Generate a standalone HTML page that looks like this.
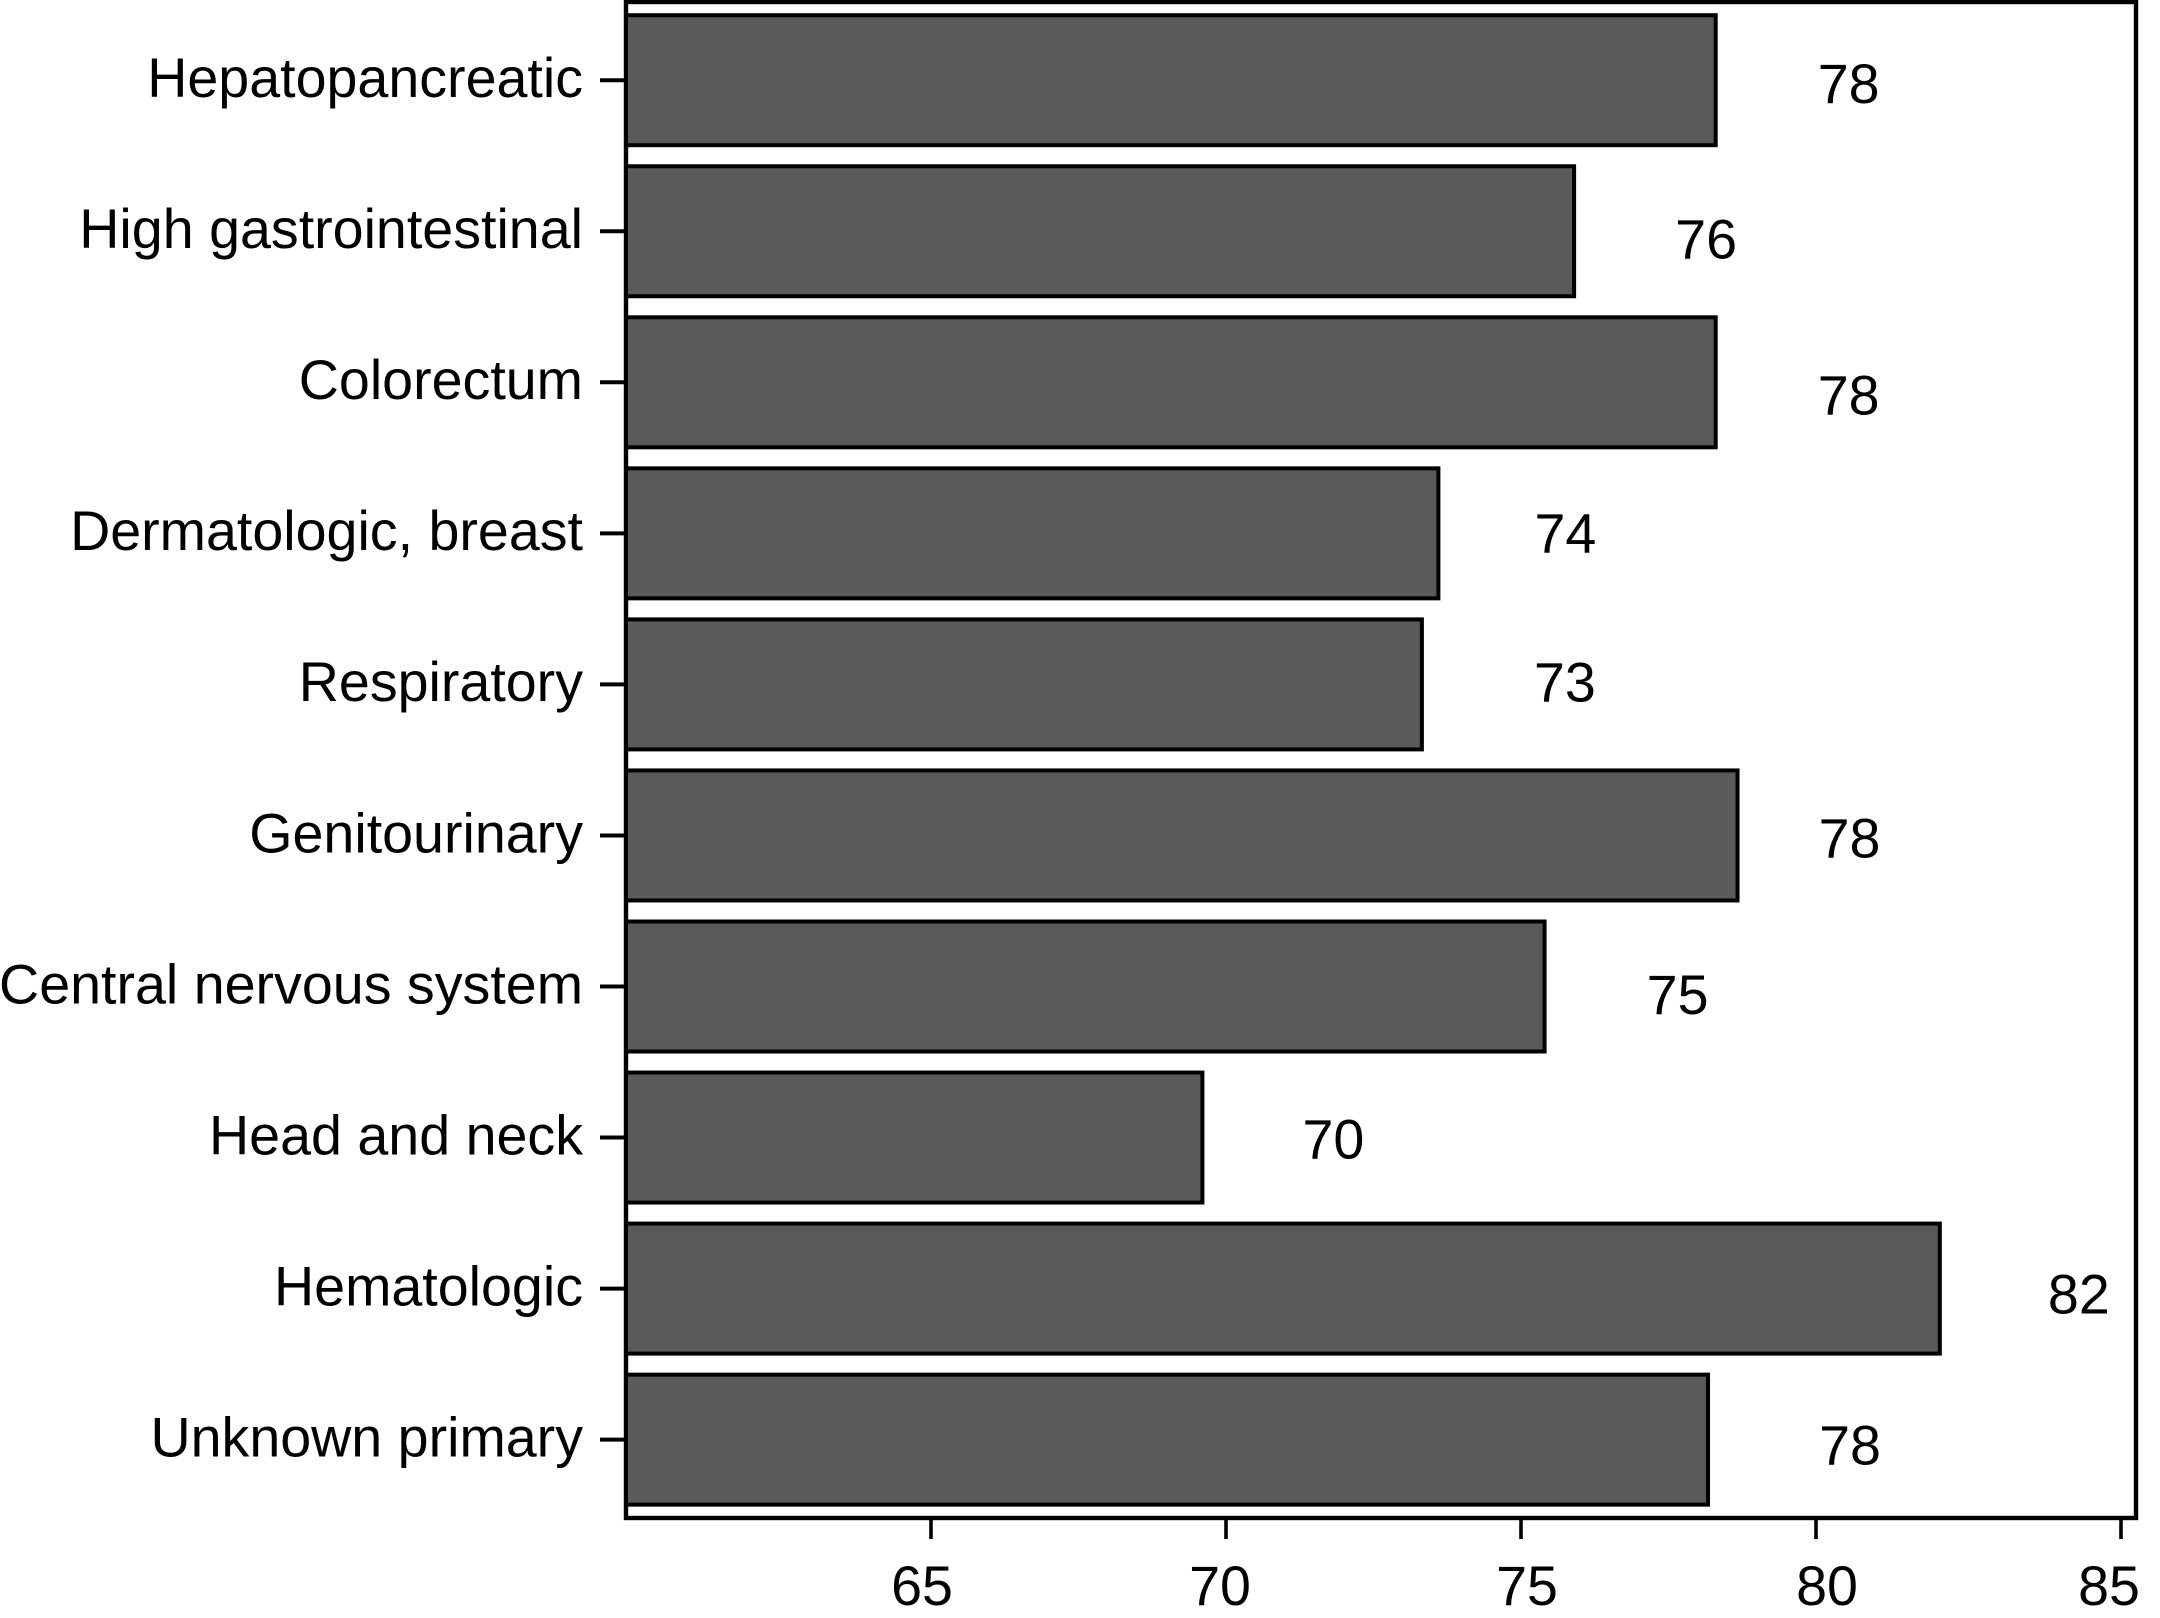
<!DOCTYPE html>
<html lang="en">
<head>
<meta charset="utf-8">
<title>Horizontal bar chart by cancer site</title>
<style>
  html, body { margin: 0; padding: 0; background: #ffffff; }
  body { width: 2160px; height: 1618px; overflow: hidden; }
  svg { display: block; }
  text { font-family: "Liberation Sans", Arial, sans-serif; font-size: 55.6px; fill: #000000; }
</style>
</head>
<body>
<svg id="chart" xmlns="http://www.w3.org/2000/svg" width="2160" height="1618" viewBox="0 0 2160 1618">
  <rect x="0" y="0" width="2160" height="1618" fill="#ffffff"></rect>
  <rect x="626" y="2" width="1510" height="1516" fill="none" stroke="#000000" stroke-width="4.4"></rect>
  <g id="y-axis"></g>
  <g id="x-axis"></g>
  <g id="bars"></g>
  <g id="value-labels"></g>
</svg>
<script>
const categories = ["Hepatopancreatic", "High gastrointestinal", "Colorectum", "Dermatologic, breast", "Respiratory", "Genitourinary", "Central nervous system", "Head and neck", "Hematologic", "Unknown primary"];
const barValues = [78.3, 75.9, 78.3, 73.6, 73.32, 78.67, 75.4, 69.6, 82.03, 78.17];
const printedValues = ["78", "76", "78", "74", "73", "78", "75", "70", "82", "78"];
const xTicks = [65, 70, 75, 80, 85];

// The source chart's printed labels were hand-placed; these are small relative nudges.
const labelNudgeX = [0, -1, 0, -6, 10, -21, 0, -2, 6, 9];
const labelNudgeY = [-1, 3, 8, -5, -7, -2, 3.4, -3, 1, 1];
const tickLabelNudgeX = [-9, -6, 6, 11, -12];

const SVG_NS = "http://www.w3.org/2000/svg";
const PLOT_LEFT = 626;

function xScale(v) {
  return v <= 80 ? 931 + 59 * (v - 65) : 1816 + 61 * (v - 80);
}
function yCenter(i) {
  return 80.2 + 151.05 * i;
}
const BAR_HEIGHT = 130;

function make(tag, attrs, parent) {
  const el = document.createElementNS(SVG_NS, tag);
  for (const k in attrs) el.setAttribute(k, attrs[k]);
  parent.appendChild(el);
  return el;
}

const yAxis = document.getElementById("y-axis");
const xAxis = document.getElementById("x-axis");
const barsGroup = document.getElementById("bars");
const labelsGroup = document.getElementById("value-labels");

categories.forEach(function (name, i) {
  const cy = yCenter(i);

  const tick = make("line", { x1: 600, x2: PLOT_LEFT, y1: cy, y2: cy, stroke: "#000", "stroke-width": 4 }, yAxis);
  
  

  const catLabel = make("text", { x: 583, y: cy + 16.8, "text-anchor": "end" }, yAxis);
  
  
  catLabel.textContent = name;

  const bar = make("rect", {
    x: PLOT_LEFT,
    y: cy - BAR_HEIGHT / 2,
    width: xScale(barValues[i]) - PLOT_LEFT,
    height: BAR_HEIGHT,
    fill: "#5a5a5a",
    stroke: "#000",
    "stroke-width": 4
  }, barsGroup);
  
  

  const valueLabel = make("text", {
    x: xScale(barValues[i]) + 133 + labelNudgeX[i],
    y: cy + 24 + labelNudgeY[i],
    "text-anchor": "middle"
  }, labelsGroup);
  
  
  valueLabel.textContent = printedValues[i];
});

xTicks.forEach(function (t, i) {
  const px = xScale(t);

  const tick = make("line", { x1: px, x2: px, y1: 1518, y2: 1539, stroke: "#000", "stroke-width": 3.6 }, xAxis);
  
  

  const tickLabel = make("text", { x: px + tickLabelNudgeX[i], y: 1605, "text-anchor": "middle" }, xAxis);
  
  
  tickLabel.textContent = String(t);
});
</script>
</body>
</html>
